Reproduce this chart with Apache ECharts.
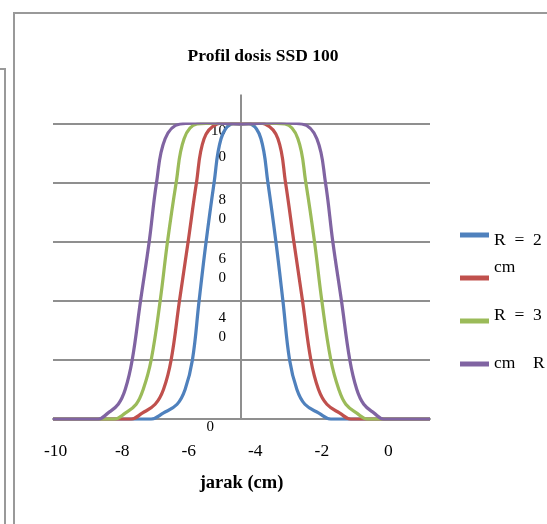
<!DOCTYPE html>
<html><head><meta charset="utf-8">
<script src="https://cdn.jsdelivr.net/npm/echarts@6/dist/echarts.min.js"></script>
<style>html,body{margin:0;padding:0;background:#fff}#c{width:547px;height:524px}</style>
</head><body><div id="c"></div>
<script>
const TITLE = 'Profil dosis SSD 100';
const X_NAME = 'jarak (cm)';
const X_CROSS = -4.43;          // x value where the vertical axis crosses
const X_MIN = -10.08, X_MAX = 1.25;
const X_TICKS = [-10, -8, -6, -4, -2, 0];
const Y_MIN = 0, Y_MAX = 100, Y_STEP = 20;
const Y_LABEL_VALUES = [0, 40, 60, 80, 100];
const SERIES_NAMES = ['R = 2 cm', 'R = 3 cm', 'R = 4 cm', 'R = 5 cm'];
const LEGEND_TEXT = ['R  =  2', 'cm', 'R  =  3', 'cm    R'];
const COLORS = ['#4F81BD', '#C0504D', '#9BBB59', '#8064A2'];

const BLUE_X = [-10.08, -7.13, -6.77, -6.35, -6.11, -5.89, -5.69, -5.48, -5.24, -5.03, -4.73, -4.43, -4.13, -3.83, -3.62, -3.38, -3.17, -2.97, -2.75, -2.51, -2.09, -1.73, 1.25];
const BLUE_Y = [0, 0, 2, 5, 10, 20, 40, 60, 80, 95, 100, 100.5, 100, 95, 80, 60, 40, 20, 10, 5, 2, 0, 0];
const RED_X = [-10.08, -7.73, -7.40, -7.01, -6.76, -6.53, -6.28, -6.02, -5.77, -5.54, -5.15, -4.83, -4.43, -4.03, -3.71, -3.32, -3.09, -2.84, -2.58, -2.33, -2.10, -1.85, -1.46, -1.13, 1.25];
const RED_Y = [0, 0, 2, 5, 10, 20, 40, 60, 80, 95, 100, 100.5, 100.7, 100.5, 100, 95, 80, 60, 40, 20, 10, 5, 2, 0, 0];
const GREEN_X = [-10.08, -8.24, -7.91, -7.58, -7.37, -7.13, -6.86, -6.64, -6.38, -6.14, -5.75, -5.13, -4.43, -3.73, -3.11, -2.72, -2.48, -2.22, -2.00, -1.73, -1.49, -1.28, -0.95, -0.62, 1.25];
const GREEN_Y = [0, 0, 2, 5, 10, 20, 40, 60, 80, 95, 100, 100.3, 100, 100.3, 100, 95, 80, 60, 40, 20, 10, 5, 2, 0, 0];
const PURPLE_X = [-10.08, -8.72, -8.43, -8.12, -7.91, -7.70, -7.45, -7.19, -6.97, -6.71, -6.26, -5.43, -4.43, -3.43, -2.60, -2.15, -1.89, -1.67, -1.41, -1.16, -0.95, -0.74, -0.43, -0.14, 1.25];
const PURPLE_Y = [0, 0, 2, 5, 10, 20, 40, 60, 80, 95, 100, 100.5, 100, 100.5, 100, 95, 80, 60, 40, 20, 10, 5, 2, 0, 0];

const SERIES_X = [BLUE_X, RED_X, GREEN_X, PURPLE_X];
const SERIES_Y = [BLUE_Y, RED_Y, GREEN_Y, PURPLE_Y];

const FONT = 'Liberation Serif';
const GRAY = '#8f8f8f';
const GRID = { left: 53, right: 117, top: 124, bottom: 105 };
const CHART_W = 547;
const LEGEND_PAD = [[16.5, 0, 5.5, 0], [0, 0, 22, 0], [5, 0, 17, 0], [10, 0, 12, 0]];

const legendRich = {};
LEGEND_PAD.forEach((p, i) => {
  legendRich['l' + i] = { fontFamily: FONT, fontSize: 17.5, lineHeight: 20, color: '#000', padding: p };
});

// vertical axis sits inside the plot at X_CROSS: shift it in from the grid's left edge
const gridW = CHART_W - GRID.left - GRID.right;
const yAxisOffset = -((X_CROSS - X_MIN) / (X_MAX - X_MIN)) * gridW;

const chart = echarts.init(document.getElementById('c'), null, { renderer: 'canvas' });
chart.setOption({
  animation: false,
  backgroundColor: '#fff',
  graphic: [
    { type: 'rect', shape: { x: 14, y: 13, width: 700, height: 700 }, style: { fill: 'none', stroke: '#999', lineWidth: 2 }, silent: true },
    { type: 'rect', shape: { x: -100, y: 69, width: 105, height: 700 }, style: { fill: 'none', stroke: '#999', lineWidth: 2 }, silent: true }
  ],
  title: {
    text: TITLE, left: 258, top: 42, textAlign: 'center',
    textStyle: { fontFamily: FONT, fontWeight: 'bold', fontSize: 17.5, color: '#000' }
  },
  legend: {
    orient: 'vertical', left: 460, top: 215, padding: 0, itemGap: 3,
    icon: 'rect', itemWidth: 29, itemHeight: 5,
    data: SERIES_NAMES,
    formatter: name => { const i = SERIES_NAMES.indexOf(name); return '{l' + i + '|' + LEGEND_TEXT[i] + '}'; },
    textStyle: { fontFamily: FONT, fontSize: 17.5, color: '#000', rich: legendRich }
  },
  grid: Object.assign({ containLabel: false }, GRID),
  xAxis: {
    type: 'value',
    min: X_MIN, max: X_MAX,
    name: X_NAME, nameLocation: 'middle', nameGap: 55,
    nameTextStyle: { fontFamily: FONT, fontWeight: 'bold', fontSize: 18.5, color: '#000' },
    axisLine: { onZero: false, lineStyle: { color: GRAY, width: 2 } },
    axisTick: { show: false },
    splitLine: { show: false },
    axisLabel: {
      customValues: X_TICKS,
      formatter: v => String(v),
      fontFamily: FONT, fontSize: 17.5, color: '#000', margin: 23
    }
  },
  yAxis: {
    type: 'value', min: Y_MIN, max: Y_MAX, interval: Y_STEP,
    offset: yAxisOffset,
    axisLine: { show: true, onZero: false, symbol: ['none', 'rect'], symbolSize: [2, 59], lineStyle: { color: GRAY, width: 2 } },
    axisTick: { show: false },
    splitLine: { show: true, lineStyle: { color: GRAY, width: 2 } },
    axisLabel: {
      customValues: Y_LABEL_VALUES,
      margin: 15, verticalAlign: 'top', color: '#000', fontFamily: FONT, fontSize: 15,
      formatter: v => {
        const s = String(v);
        if (v === 0) return '{z|0}';
        if (v === 100) return '{t|' + s.slice(0, 2) + '}\n{b|' + s.slice(2) + '}';
        return '{s| }\n{n|' + s[0] + '}\n{n|' + s.slice(1) + '}';
      },
      rich: {
        n: { fontFamily: FONT, fontSize: 15, lineHeight: 19, color: '#000', align: 'right' },
        s: { fontSize: 1, lineHeight: 8 },
        t: { fontFamily: FONT, fontSize: 15, lineHeight: 14, color: '#000', align: 'right' },
        b: { fontFamily: FONT, fontSize: 15, lineHeight: 38, color: '#000', align: 'right' },
        z: { fontFamily: FONT, fontSize: 15, lineHeight: 17, color: '#000', align: 'right', padding: [0, 12, 0, 0] }
      }
    }
  },
  series: SERIES_NAMES.map((name, i) => ({
    name, type: 'line', smooth: 0.4, showSymbol: false, symbol: 'none',
    color: COLORS[i], z: 3 + i,
    lineStyle: { width: 3.25, color: COLORS[i] },
    data: SERIES_X[i].map((x, k) => [x, SERIES_Y[i][k]])
  }))
});
</script></body></html>
